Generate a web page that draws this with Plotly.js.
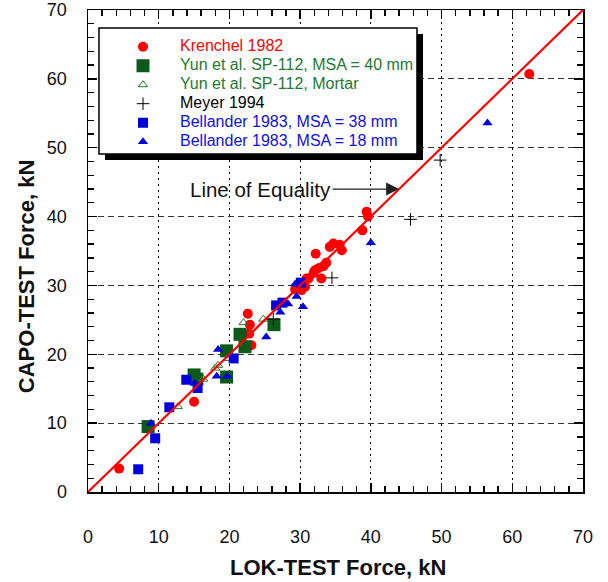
<!DOCTYPE html>
<html>
<head>
<meta charset="utf-8">
<script src="https://cdn.plot.ly/plotly-3.0.1.min.js"></script>
<style>html,body{margin:0;padding:0;background:#fff;}#chart{width:608px;height:582px;}</style>
</head>
<body>
<div id="chart"></div>
<script>
// ---- data ----
const krenchelX = [4.4, 15.0, 22.6, 22.9, 22.8, 23.1, 29.3, 30.2, 30.4, 30.7, 30.9, 31.2, 31.9, 32.1, 33.0, 32.6, 33.3, 33.7, 32.2, 34.2, 34.7, 35.6, 35.9, 38.8, 39.4, 39.6, 62.4];
const krenchelY = [3.4, 13.1, 25.9, 24.3, 23.0, 21.3, 29.4, 29.3, 30.1, 29.8, 31.0, 31.0, 31.8, 32.2, 31.0, 32.5, 32.8, 33.3, 34.6, 35.6, 36.1, 35.9, 35.1, 38.0, 40.7, 40.0, 60.7];

const yun40X = [8.5, 15.0, 15.4, 19.6, 19.6, 21.5, 22.2, 26.3];
const yun40Y = [9.5, 17.0, 16.4, 20.5, 16.7, 22.9, 21.1, 24.3];

const mortarX = [12.7, 16.3, 18.0, 18.4, 19.8, 22.0, 24.8];
const mortarY = [12.4, 16.4, 18.0, 18.4, 19.4, 24.6, 25.1];

const meyerX = [26.2, 34.5, 45.6, 49.8];
const meyerY = [25.1, 31.1, 39.6, 48.2];

const bell38X = [7.1, 9.5, 11.5, 13.9, 15.5, 20.6, 26.6, 27.5, 30.1];
const bell38Y = [3.3, 7.8, 12.3, 16.3, 15.1, 19.4, 27.1, 27.5, 30.4];

const bell18X = [8.9, 15.1, 18.4, 18.2, 19.7, 25.2, 27.2, 28.3, 29.3, 29.5, 30.4, 40.0, 56.5];
const bell18Y = [10.0, 15.8, 20.7, 16.8, 16.8, 22.5, 26.1, 27.3, 30.2, 28.4, 26.9, 36.2, 53.6];

const equalityX = [0, 70];
const equalityY = [0, 70];

const axisTicks = [0, 10, 20, 30, 40, 50, 60, 70];
const minorStep = 2;

const seriesNames = [
  'Krenchel 1982',
  'Yun et al. SP-112, MSA = 40 mm',
  'Yun et al. SP-112, Mortar',
  'Meyer 1994',
  'Bellander 1983, MSA = 38 mm',
  'Bellander 1983, MSA = 18 mm'
];
const textColors = ['#ff0000', '#1e7a32', '#1e7a32', '#000000', '#1010e6', '#1010e6'];

const RED = '#ff0000', DKGREEN = '#0b5a19', GREEN = '#1e7a32', BLUE = '#0000dc';

function nm(i) {
  return '<span style="font-size:16px;color:' + textColors[i] + '">' + seriesNames[i] + '</span>';
}

const traces = [
  {x: krenchelX, y: krenchelY, mode: 'markers', name: nm(0), marker: {symbol: 'circle', size: 10, color: RED}},
  {x: yun40X, y: yun40Y, mode: 'markers', name: nm(1), marker: {symbol: 'square', size: 13, color: DKGREEN}},
  {x: mortarX, y: mortarY, mode: 'markers', name: nm(2), marker: {symbol: 'triangle-up-open', size: 8, color: GREEN, line: {width: 1}}},
  {x: meyerX, y: meyerY, mode: 'markers', name: nm(3), marker: {symbol: 'cross-thin-open', size: 9, color: '#000', line: {width: 1, color: '#000'}}},
  {x: bell38X, y: bell38Y, mode: 'markers', name: nm(4), marker: {symbol: 'square', size: 10, color: BLUE}},
  {x: bell18X, y: bell18Y, mode: 'markers', name: nm(5), marker: {symbol: 'triangle-up', size: 9, color: BLUE}},
  {x: equalityX, y: equalityY, mode: 'lines', line: {color: RED, width: 2.2}, showlegend: false, hoverinfo: 'skip'}
];

const F = 'Arial, "Liberation Sans", sans-serif';
function axis(dash, gcol) {
  return {
    range: [axisTicks[0], axisTicks[axisTicks.length - 1]],
    tickmode: 'linear', tick0: axisTicks[0], dtick: axisTicks[1] - axisTicks[0],
    ticks: 'inside', ticklen: 9, tickwidth: 1.5, tickcolor: '#000',
    minor: {tickmode: 'linear', tick0: 0, dtick: minorStep, ticks: 'inside', ticklen: 6, tickwidth: 1.3, tickcolor: '#000', showgrid: false},
    showline: true, linecolor: '#000', linewidth: 1.5, mirror: 'allticks',
    showgrid: true, gridcolor: gcol, griddash: dash, gridwidth: 1,
    zeroline: false, fixedrange: true,
    tickfont: {family: F, size: 18, color: '#111'}
  };
}
const xa = axis('2px,4px', '#000'); xa.ticklabelstandoff = 28;
const ya = axis('6px,4px', '#333'); ya.ticklabelstandoff = 16;

const layout = {
  width: 608, height: 582,
  margin: {l: 88, r: 25, t: 10, b: 90},
  paper_bgcolor: '#fff', plot_bgcolor: '#fff',
  font: {family: F, color: '#000'},
  xaxis: xa, yaxis: ya,
  showlegend: true,
  legend: {x: 0.0364, y: 0.954, bgcolor: 'rgba(0,0,0,0)', font: {size: 12}, itemwidth: 64}
};

const extras = {
  shapes: [
    {type: 'rect', xref: 'paper', yref: 'paper', x0: 0.0343, x1: 0.6768, y0: 0.6888, y1: 0.9502,
     fillcolor: '#000', line: {width: 0}, layer: 'above'},
    {type: 'rect', xref: 'paper', yref: 'paper', x0: 0.0222, x1: 0.6646, y0: 0.7012, y1: 0.9627,
     fillcolor: '#fff', line: {color: '#000', width: 1.5}, layer: 'above'}
  ],
  annotations: [
    {x: 44, y: 44, xref: 'x', yref: 'y', ax: 24.4, ay: 44, axref: 'x', ayref: 'y',
     text: 'Line of Equality', showarrow: true, arrowhead: 2, arrowsize: 2, arrowwidth: 1.3,
     arrowcolor: '#222', font: {family: F, size: 20.5, color: '#111'}},
    {xref: 'paper', yref: 'paper', x: 0.505, y: -0.156, text: '<b>LOK-TEST Force, kN</b>',
     showarrow: false, font: {family: F, size: 22, color: '#111'}, xanchor: 'center', yanchor: 'middle'},
    {xref: 'paper', yref: 'paper', x: -0.125, y: 0.446, text: '<b>CAPO-TEST Force, kN</b>', textangle: -90,
     showarrow: false, font: {family: F, size: 22, color: '#111'}, xanchor: 'center', yanchor: 'middle'}
  ]
};

Plotly.newPlot('chart', traces, layout, {displayModeBar: false, staticPlot: true})
  .then(function (gd) { return Plotly.relayout(gd, extras); });
</script>
</body>
</html>
